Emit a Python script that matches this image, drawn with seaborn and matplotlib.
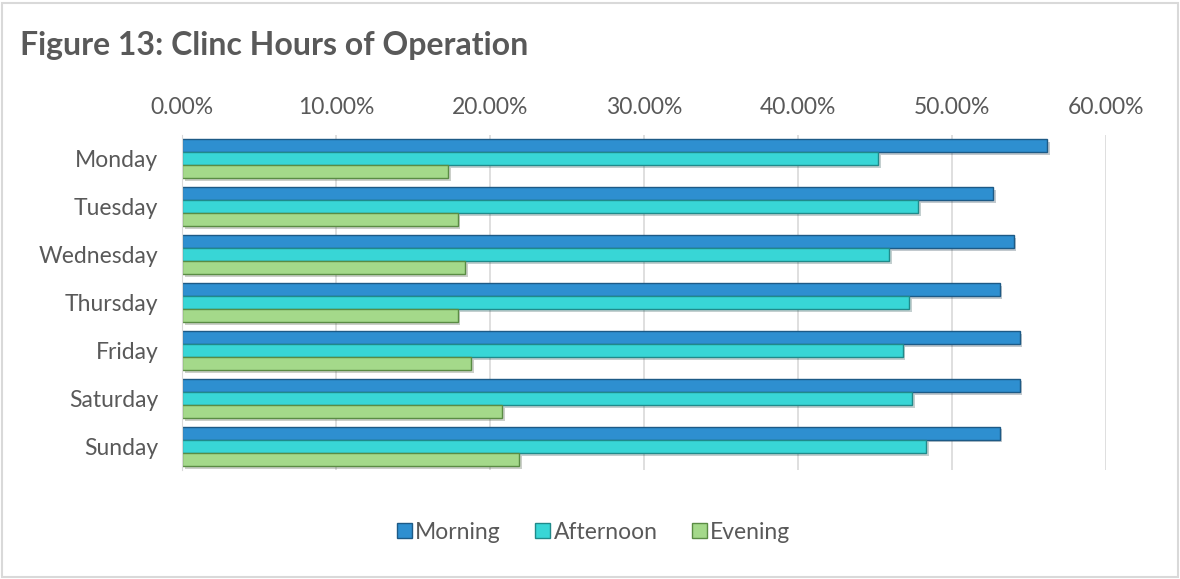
import pandas as pd
import seaborn as sns
import matplotlib.pyplot as plt
import matplotlib.patheffects as pe
from matplotlib.ticker import PercentFormatter
from matplotlib.patches import Rectangle

# Values (percent of clinics)
days = ['Monday', 'Tuesday', 'Wednesday', 'Thursday', 'Friday', 'Saturday', 'Sunday']
morning = [56.2, 52.7, 54.0, 53.1, 54.4, 54.4, 53.1]
afternoon = [45.2, 47.8, 45.9, 47.2, 46.8, 47.4, 48.3]
evening = [17.3, 17.9, 18.4, 17.9, 18.8, 20.8, 21.9]
periods = ['Morning', 'Afternoon', 'Evening']

# long format for seaborn
df = pd.DataFrame({
    'Day': days * 3,
    'Period': [p for p in periods for _ in days],
    'Share': morning + afternoon + evening,
})

sns.set_style('white')
plt.rcParams['font.family'] = ['Lato', 'DejaVu Sans']
text_color = '#595959'
colors = ['#2e8fd0', '#38d6d6', '#a4d98a']
edges = ['#1d5a86', '#208a8a', '#5a8c44']

fig = plt.figure(figsize=(11.8, 5.79), dpi=100)
ax = fig.add_axes([0.1542, 0.188, 0.783, 0.579])

sns.barplot(data=df, x='Share', y='Day', hue='Period', orient='h',
            palette=colors, saturation=1, width=0.82, ax=ax, legend=True)

# darker edges and a soft drop shadow on each bar
for container, ec in zip(ax.containers, edges):
    for bar in container:
        bar.set_edgecolor(ec)
        bar.set_linewidth(1.0)
        bar.set_path_effects([pe.SimplePatchShadow(offset=(2, -2), alpha=0.25),
                              pe.Normal()])

ax.set_xlim(0, 60)
ax.xaxis.set_major_formatter(PercentFormatter(xmax=100, decimals=2))
ax.xaxis.tick_top()
ax.set_xticks(range(0, 61, 10))
ax.grid(axis='x', color='#d9d9d9', linewidth=1.2)
ax.set_axisbelow(True)
ax.tick_params(axis='both', length=0, labelsize=16.5, labelcolor=text_color)
ax.tick_params(axis='x', pad=12)
ax.tick_params(axis='y', pad=17)
ax.set_xlabel('')
ax.set_ylabel('')
for side in ['top', 'right', 'bottom']:
    ax.spines[side].set_visible(False)
ax.spines['left'].set_color('#d9d9d9')

# legend at the bottom, centred on the figure
ax.get_legend().remove()
handles, labels = ax.get_legend_handles_labels()
leg = fig.legend(handles, labels, loc='center', bbox_to_anchor=(0.503, 0.081), ncol=3,
                 frameon=False, fontsize=16.5, handlelength=0.65, handleheight=0.65,
                 handletextpad=0.15, columnspacing=1.5)
for txt in leg.get_texts():
    txt.set_color(text_color)
for h, ec in zip(leg.legend_handles, edges):
    h.set_edgecolor(ec)

fig.text(0.017, 0.922, 'Figure 13: Clinc Hours of Operation', fontsize=23,
         fontweight='bold', color=text_color, va='center', ha='left')

# light frame around the chart
fig.patches.append(Rectangle((0.002, 0.004), 0.996, 0.99, transform=fig.transFigure,
                             fill=False, edgecolor='#d9d9d9', linewidth=1.5))

plt.savefig('out.png', dpi=100)
